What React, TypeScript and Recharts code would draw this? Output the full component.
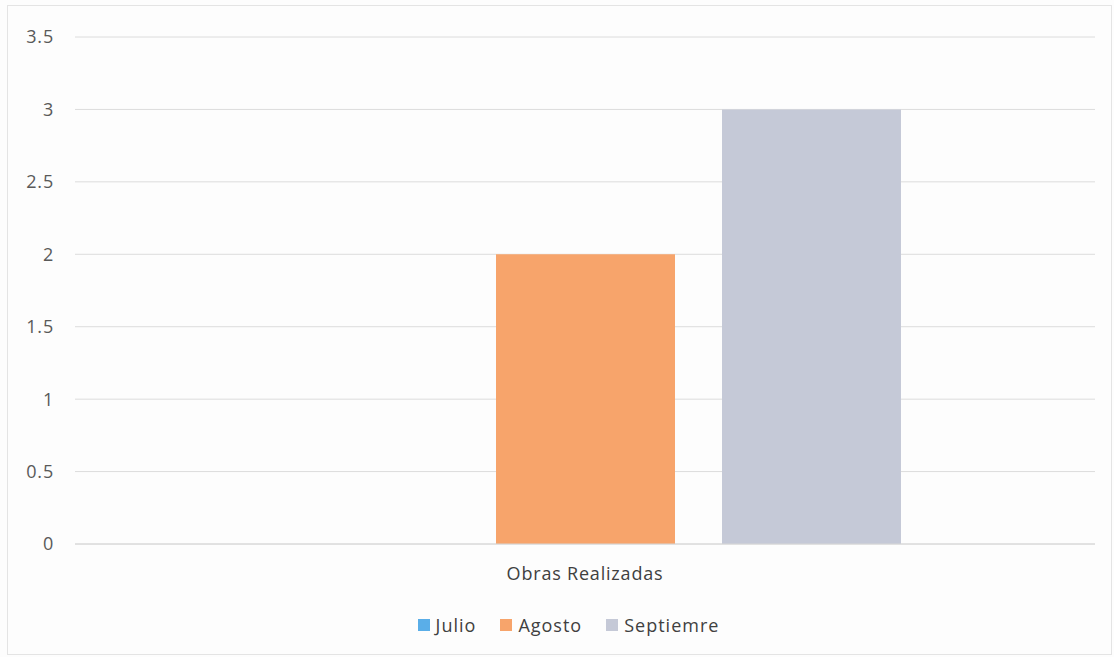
import React from "react";
import { Bar, BarChart, CartesianGrid, Legend, XAxis, YAxis } from "recharts";

const categories = ["Obras Realizadas"];
const seriesNames = ["Julio", "Agosto", "Septiemre"];
const julio = [0];
const agosto = [2];
const septiemre = [3];
const yTicks = [0, 0.5, 1, 1.5, 2, 2.5, 3, 3.5];

const colors = ["#5aaee8", "#f7a46b", "#c5c9d7"];
const keys = ["julio", "agosto", "septiemre"];

const data = categories.map((name, i) => ({
  name,
  julio: julio[i],
  agosto: agosto[i],
  septiemre: septiemre[i],
}));

const FONT = "'Open Sans', 'Noto Sans', sans-serif";

function LegendContent() {
  return (
    <div
      style={{
        display: "flex",
        justifyContent: "center",
        gap: 24,
        fontFamily: FONT,
        fontSize: 18,
        letterSpacing: 1,
        color: "#404040",
        paddingLeft: 42,
      }}
    >
      {seriesNames.map((s, i) => (
        <div key={s} style={{ display: "flex", alignItems: "center" }}>
          <span style={{ width: 12, height: 12, background: colors[i], display: "inline-block", marginRight: 6 }} />
          <span>{s}</span>
        </div>
      ))}
    </div>
  );
}

export default function App() {
  return (
    <div
      style={{
        position: "absolute",
        left: 0,
        top: 0,
        width: 1114,
        height: 657,
        background: "#fdfdfd",
      }}
    >
      <div
        style={{
          position: "absolute",
          left: 7,
          top: 5,
          right: 2,
          bottom: 2,
          border: "1px solid #e4e4e4",
        }}
      />
      <BarChart
        width={1114}
        height={657}
        data={data}
        margin={{ top: 37, right: 19, left: 0, bottom: 20 }}
        barCategoryGap={195}
        barGap={47}
      >
        <CartesianGrid vertical={false} stroke="#dcdcdc" />
        <XAxis
          dataKey="name"
          height={69}
          axisLine={{ stroke: "#d6d6d6" }}
          tickLine={false}
          tickMargin={17}
          tick={{ fill: "#404040", fontSize: 18, fontFamily: FONT, letterSpacing: 0.8 }}
        />
        <YAxis
          width={75}
          domain={[0, 3.5]}
          ticks={yTicks}
          axisLine={false}
          tickLine={false}
          tickMargin={15}
          tick={{ fill: "#595959", fontSize: 18, fontFamily: FONT, letterSpacing: 0.8 }}
        />
        <Legend verticalAlign="bottom" content={<LegendContent />} />
        {keys.map((k, i) => (
          <Bar key={k} dataKey={k} name={seriesNames[i]} fill={colors[i]} isAnimationActive={false} />
        ))}
      </BarChart>
    </div>
  );
}
